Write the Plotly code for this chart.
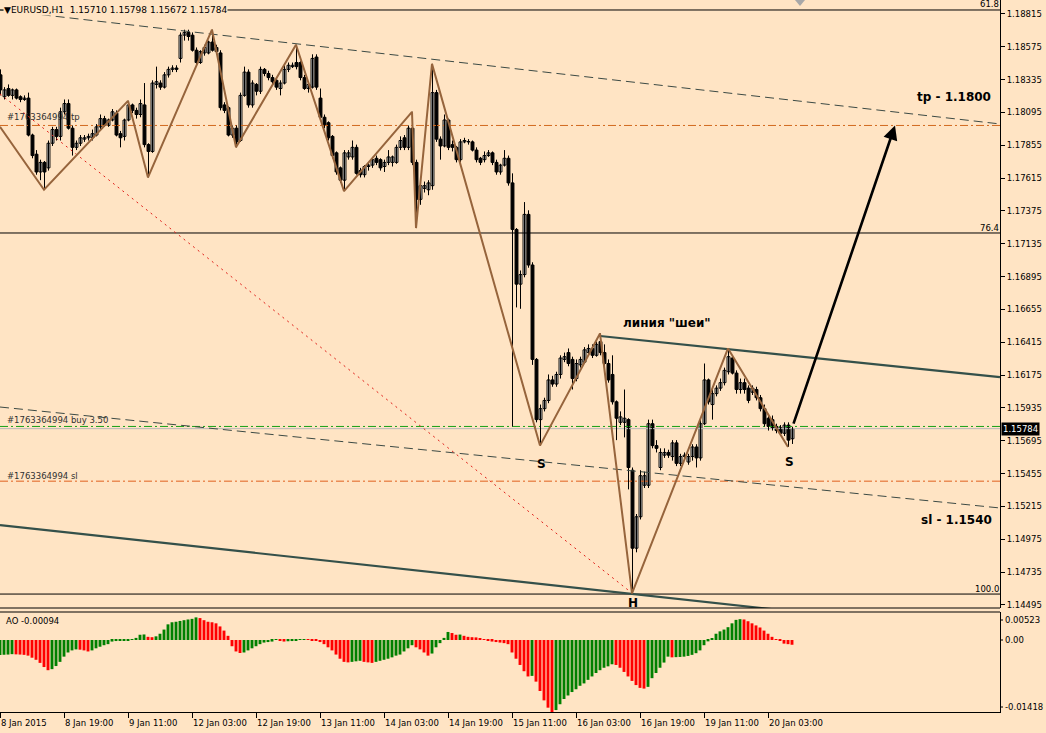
import plotly.graph_objects as go

W, H = 1046, 733
BG = "#FFE4C4"
FONT = "DejaVu Sans"

# ---------------- data (EURUSD H1) ----------------
opens = [1.1837,1.1821,1.1827,1.1822,1.1826,1.1821,1.1819,1.1820,1.1793,1.1779,
         1.1766,1.1773,1.1769,1.1787,1.1797,1.1792,1.1810,1.1816,1.1798,1.1784,
         1.1787,1.1790,1.1791,1.1791,1.1793,1.1799,1.1805,1.1800,1.1804,1.1809,
         1.1794,1.1792,1.1804,1.1815,1.1811,1.1808,1.1815,1.1786,1.1781,1.1830,
         1.1831,1.1828,1.1837,1.1841,1.1842,1.1849,1.1866,1.1868,1.1866,1.1855,
         1.1846,1.1853,1.1853,1.1861,1.1857,1.1853,1.1815,1.1813,1.1793,1.1798,
         1.1789,1.1822,1.1839,1.1815,1.1830,1.1825,1.1841,1.1838,1.1835,1.1833,
         1.1827,1.1831,1.1841,1.1843,1.1846,1.1846,1.1835,1.1827,1.1828,1.1850,
         1.1820,1.1806,1.1802,1.1792,1.1780,1.1769,1.1760,1.1777,1.1777,1.1784,
         1.1767,1.1764,1.1770,1.1771,1.1776,1.1775,1.1770,1.1773,1.1773,1.1773,
         1.1784,1.1791,1.1784,1.1798,1.1773,1.1746,1.1754,1.1753,1.1756,1.1824,
         1.1790,1.1785,1.1804,1.1786,1.1784,1.1775,1.1788,1.1788,1.1788,1.1782,
         1.1776,1.1775,1.1778,1.1780,1.1773,1.1766,1.1771,1.1776,1.1758,1.1724,
         1.1684,1.1691,1.1735,1.1698,1.1629,1.1585,1.1593,1.1599,1.1614,1.1611,
         1.1618,1.1629,1.1634,1.1629,1.1615,1.1625,1.1627,1.1634,1.1637,1.1632,
         1.1642,1.1634,1.1626,1.1618,1.1598,1.1583,1.1583,1.1585,1.1548,1.1491,
         1.1514,1.1537,1.1537,1.1582,1.1566,1.1550,1.1559,1.1561,1.1558,1.1568,
         1.1553,1.1558,1.1554,1.1558,1.1565,1.1557,1.1582,1.1614,1.1596,1.1604,
         1.1608,1.1612,1.1620,1.1630,1.1619,1.1607,1.1612,1.1608,1.1605,1.1607,
         1.1601,1.1593,1.1586,1.1585,1.1580,1.1579,1.1575,1.1581,1.15710]
highs = [1.1841,1.1828,1.1830,1.1827,1.1827,1.1822,1.1822,1.1824,1.1794,1.1782,
         1.1775,1.1774,1.1789,1.1799,1.1799,1.1813,1.1819,1.1819,1.1800,1.1789,
         1.1793,1.1793,1.1794,1.1797,1.1801,1.1808,1.1807,1.1805,1.1812,1.1811,
         1.1796,1.1805,1.1818,1.1816,1.1813,1.1819,1.1831,1.1787,1.1833,1.1843,
         1.1833,1.1839,1.1843,1.1844,1.1844,1.1868,1.1870,1.1870,1.1868,1.1857,
         1.1855,1.1859,1.1862,1.1870,1.1859,1.1855,1.1817,1.1814,1.1800,1.1800,
         1.1824,1.1843,1.1841,1.1833,1.1831,1.1843,1.1842,1.1840,1.1837,1.1835,
         1.1833,1.1844,1.1846,1.1846,1.1859,1.1847,1.1837,1.1832,1.1852,1.1852,
         1.1827,1.1808,1.1803,1.1793,1.1781,1.1770,1.1782,1.1782,1.1789,1.1786,
         1.1769,1.1771,1.1773,1.1777,1.1778,1.1776,1.1775,1.1782,1.1778,1.1786,
         1.1792,1.1793,1.1800,1.1810,1.1775,1.1760,1.1759,1.1760,1.1845,1.1826,
         1.1792,1.1808,1.1805,1.1789,1.1785,1.1790,1.1791,1.1790,1.1789,1.1784,
         1.1777,1.1781,1.1782,1.1781,1.1775,1.1772,1.1782,1.1778,1.1765,1.1725,
         1.1694,1.1744,1.1738,1.1700,1.1630,1.1596,1.1601,1.1618,1.1617,1.1620,
         1.1632,1.1634,1.1637,1.1631,1.1629,1.1631,1.1638,1.1640,1.1640,1.1642,
         1.1648,1.1640,1.1629,1.1632,1.1599,1.1591,1.1607,1.1586,1.1550,1.1516,
         1.1548,1.1547,1.1585,1.1585,1.1570,1.1564,1.1564,1.1563,1.1570,1.1570,
         1.1560,1.1561,1.1560,1.1567,1.1567,1.1585,1.1626,1.1615,1.1607,1.1610,
         1.1615,1.1623,1.1637,1.1632,1.1621,1.1615,1.1615,1.1610,1.1610,1.1609,
         1.1603,1.1596,1.1588,1.1588,1.1582,1.1581,1.1583,1.1583,1.15798]
lows = [1.1822,1.1819,1.1821,1.1819,1.1819,1.1817,1.1818,1.1792,1.1776,1.1764,
        1.1760,1.1753,1.1767,1.1785,1.1789,1.1789,1.1808,1.1797,1.1778,1.1782,
        1.1785,1.1788,1.1789,1.1789,1.1792,1.1797,1.1799,1.1799,1.1803,1.1792,
        1.1784,1.1789,1.1803,1.1809,1.1805,1.1806,1.1784,1.1762,1.1780,1.1827,
        1.1826,1.1827,1.1835,1.1839,1.1839,1.1846,1.1862,1.1862,1.1854,1.1844,
        1.1845,1.1851,1.1852,1.1854,1.1852,1.1811,1.1809,1.1792,1.1791,1.1784,
        1.1788,1.1821,1.1813,1.1813,1.1822,1.1823,1.1836,1.1833,1.1830,1.1826,
        1.1822,1.1830,1.1839,1.1842,1.1841,1.1833,1.1826,1.1824,1.1827,1.1826,
        1.1804,1.1798,1.1789,1.1776,1.1764,1.1758,1.1752,1.1775,1.1775,1.1764,
        1.1762,1.1762,1.1767,1.1769,1.1771,1.1767,1.1766,1.1771,1.1770,1.1772,
        1.1782,1.1782,1.1782,1.1771,1.1725,1.1742,1.1751,1.1749,1.1753,1.1788,
        1.1775,1.1784,1.1782,1.1781,1.1773,1.1773,1.1787,1.1786,1.1781,1.1773,
        1.1771,1.1773,1.1777,1.1771,1.1764,1.1764,1.1770,1.1756,1.1580,1.1667,
        1.1666,1.1689,1.1696,1.1625,1.1583,1.1566,1.1591,1.1597,1.1609,1.1609,
        1.1615,1.1627,1.1624,1.1607,1.1613,1.1623,1.1626,1.1632,1.1630,1.1631,
        1.1632,1.1624,1.1612,1.1596,1.1570,1.1581,1.1572,1.1534,1.1458,1.1488,
        1.1512,1.1535,1.1535,1.1564,1.1561,1.1548,1.1557,1.1557,1.1555,1.1551,
        1.1551,1.1555,1.1552,1.1555,1.1550,1.1555,1.1581,1.1596,1.1585,1.1602,
        1.1606,1.1610,1.1618,1.1618,1.1604,1.1604,1.1604,1.1597,1.1603,1.1599,
        1.1591,1.1580,1.1577,1.1577,1.1575,1.1573,1.1573,1.1565,1.15672]
closes = [1.1826,1.1826,1.1822,1.1826,1.1820,1.1819,1.1820,1.1793,1.1778,1.1766,
          1.1773,1.1766,1.1787,1.1797,1.1792,1.1810,1.1816,1.1798,1.1784,1.1787,
          1.1791,1.1791,1.1792,1.1794,1.1799,1.1805,1.1800,1.1804,1.1810,1.1793,
          1.1791,1.1804,1.1815,1.1811,1.1808,1.1816,1.1786,1.1781,1.1831,1.1832,
          1.1828,1.1837,1.1841,1.1842,1.1841,1.1866,1.1868,1.1865,1.1855,1.1846,
          1.1854,1.1857,1.1861,1.1855,1.1854,1.1813,1.1811,1.1793,1.1798,1.1788,
          1.1822,1.1839,1.1815,1.1831,1.1825,1.1841,1.1838,1.1835,1.1832,1.1828,
          1.1831,1.1841,1.1844,1.1844,1.1843,1.1835,1.1827,1.1830,1.1849,1.1828,
          1.1806,1.1800,1.1791,1.1778,1.1766,1.1760,1.1780,1.1780,1.1784,1.1765,
          1.1764,1.1770,1.1771,1.1775,1.1773,1.1769,1.1773,1.1777,1.1777,1.1784,
          1.1789,1.1784,1.1798,1.1773,1.1746,1.1756,1.1756,1.1758,1.1824,1.1790,
          1.1785,1.1804,1.1784,1.1784,1.1775,1.1788,1.1789,1.1788,1.1782,1.1775,
          1.1773,1.1778,1.1780,1.1773,1.1766,1.1771,1.1776,1.1758,1.1724,1.1684,
          1.1691,1.1735,1.1698,1.1629,1.1585,1.1593,1.1599,1.1614,1.1611,1.1618,
          1.1630,1.1631,1.1626,1.1615,1.1626,1.1629,1.1636,1.1637,1.1632,1.1640,
          1.1634,1.1626,1.1614,1.1598,1.1586,1.1587,1.1586,1.1550,1.1491,1.1514,
          1.1544,1.1544,1.1582,1.1566,1.1564,1.1561,1.1561,1.1559,1.1568,1.1553,
          1.1558,1.1559,1.1558,1.1565,1.1557,1.1582,1.1614,1.1598,1.1604,1.1608,
          1.1612,1.1621,1.1631,1.1619,1.1607,1.1612,1.1607,1.1599,1.1608,1.1601,
          1.1593,1.1582,1.1580,1.1579,1.1577,1.1575,1.1581,1.1570,1.15784]

ao = [-0.00297,-0.00291,-0.00287,-0.00279,-0.00283,-0.00287,-0.00293,-0.00308,-0.00349,-0.00390,
      -0.00451,-0.00533,-0.00595,-0.00574,-0.00513,-0.00431,-0.00328,-0.00246,-0.00205,-0.00185,
      -0.00191,-0.00205,-0.00226,-0.00205,-0.00164,-0.00133,-0.00103,-0.00082,-0.00031,-0.00021,
      -0.00012,-0.00008,-0.00004,0.00016,0.00041,0.00103,0.00109,0.00062,0.00055,0.00072,
      0.00123,0.00205,0.00308,0.00349,0.00359,0.00375,0.00390,0.00404,0.00416,0.00445,
      0.00431,0.00390,0.00359,0.00349,0.00328,0.00267,0.00185,0.00082,-0.00123,-0.00226,
      -0.00256,-0.00246,-0.00205,-0.00164,-0.00123,-0.00082,-0.00051,-0.00041,-0.00031,0.00006,
      -0.00010,-0.00031,-0.00025,-0.00021,-0.00006,0.00006,0.00010,0.00004,-0.00006,-0.00016,
      -0.00041,-0.00082,-0.00144,-0.00205,-0.00287,-0.00369,-0.00431,-0.00441,-0.00431,-0.00420,
      -0.00410,-0.00431,-0.00441,-0.00451,-0.00431,-0.00410,-0.00390,-0.00369,-0.00342,-0.00308,
      -0.00287,-0.00226,-0.00164,-0.00103,-0.00144,-0.00185,-0.00246,-0.00308,-0.00267,-0.00144,
      -0.00062,0.00041,0.00158,0.00137,0.00103,0.00107,0.00082,0.00062,0.00055,0.00051,
      0.00031,0.00010,-0.00014,-0.00031,-0.00041,-0.00051,-0.00062,-0.00082,-0.00246,-0.00369,
      -0.00492,-0.00615,-0.00718,-0.00707,-0.00820,-0.01005,-0.01189,-0.01333,-0.01418,-0.01380,
      -0.01265,-0.01162,-0.01093,-0.01025,-0.00970,-0.00902,-0.00855,-0.00785,-0.00718,-0.00650,
      -0.00595,-0.00547,-0.00519,-0.00478,-0.00492,-0.00547,-0.00629,-0.00718,-0.00806,-0.00888,
      -0.00943,-0.00957,-0.00923,-0.00752,-0.00650,-0.00547,-0.00445,-0.00328,-0.00342,-0.00338,
      -0.00334,-0.00328,-0.00314,-0.00293,-0.00260,-0.00205,-0.00103,-0.00027,0.00035,0.00123,
      0.00170,0.00205,0.00252,0.00328,0.00396,0.00410,0.00404,0.00369,0.00328,0.00287,
      0.00246,0.00185,0.00123,0.00062,0.00014,-0.00010,-0.00072,-0.00082,-0.00094]

time_tick_idx = [0, 16, 32, 48, 64, 80, 96, 112, 128, 144, 160, 176, 192]
time_tick_text = ["8 Jan 2015", "8 Jan 19:00", "9 Jan 11:00", "12 Jan 03:00", "12 Jan 19:00",
                  "13 Jan 11:00", "14 Jan 03:00", "14 Jan 19:00", "15 Jan 11:00", "16 Jan 03:00",
                  "16 Jan 19:00", "19 Jan 11:00", "20 Jan 03:00"]
price_ticks = [1.18815, 1.18575, 1.18335, 1.18095, 1.17855, 1.17615, 1.17375, 1.17135, 1.16895,
               1.16655, 1.16415, 1.16175, 1.15935, 1.15695, 1.15455, 1.15215, 1.14975, 1.14735, 1.14495]

zz_idx = [0, 11, 32, 37, 53, 59, 74, 86, 103, 104, 108, 135, 150, 158, 182, 197]
zz_price = [1.1799, 1.1753, 1.1818, 1.1762, 1.1870, 1.1784, 1.1859, 1.1752, 1.1810, 1.1725,
            1.1845, 1.1566, 1.1648, 1.1458, 1.1637, 1.1565]

fib_levels = [1.18844, 1.17214, 1.14575]
fib_labels = ["61.8", "76.4", "100.0"]

tp_level, buy_level, sl_level, bid_level = 1.1800, 1.1580, 1.1540, 1.15784
order_label_prices = [1.18054, 1.15840, 1.15430]
order_labels = ["#1763364994 tp", "#1763364994 buy 3.50", "#1763364994 sl"]

# trend lines: (idx0, price0, idx1, price1)
upper_channel = (0, 1.18844, 250, 1.18011)
lower_channel = (0, 1.15942, 250, 1.15204)
neck_line = (150, 1.16461, 250, 1.16161)
bottom_line = (0, 1.15079, 250, 1.14283)
red_dotted = (0, 1.18230, 158, 1.14582)
arrow_from = (198.25, 1.1581)
arrow_to = (223.75, 1.1800)

ao_label = "AO -0.00094"
header = "▼EURUSD,H1  1.15710 1.15798 1.15672 1.15784"

# ---------------- figure ----------------
XR = [0, 250]
XD = 1000 / W
N = len(opens)
idx = list(range(N))
XOFF = 0.125   # half a pixel, keeps 1-px strokes crisp

fig = go.Figure()

def line_tr(x, y, color, width=1, dash="solid"):
    fig.add_trace(go.Scatter(x=x, y=y, mode="lines", xaxis="x2", yaxis="y",
                             line=dict(color=color, width=width, dash=dash),
                             hoverinfo="skip", showlegend=False))

# order labels (behind candles)
fig.add_trace(go.Scatter(x=[1.75] * 3, y=order_label_prices, mode="text", text=order_labels,
                         textposition="middle right", xaxis="x2", yaxis="y",
                         textfont=dict(family=FONT, size=8.5, color="#303030"),
                         hoverinfo="skip", showlegend=False))

for lv in fib_levels:
    line_tr(XR, [lv, lv], "black", 1)

dashdot = "8px,3px,2px,3px"
line_tr(XR, [tp_level] * 2, "#D2691E", 1, dashdot)
line_tr(XR, [sl_level] * 2, "#E0601E", 1, dashdot)
line_tr(XR, [bid_level] * 2, "#B8B8B8", 1)
line_tr(XR, [buy_level] * 2, "#16A016", 1, dashdot)

# candles: wicks then bodies
wx, wy = [], []
for i in idx:
    wx += [i + XOFF, i + XOFF, None]
    wy += [lows[i], highs[i], None]
fig.add_trace(go.Scatter(x=wx, y=wy, mode="lines", xaxis="x2", yaxis="y",
                         line=dict(color="black", width=1), hoverinfo="skip", showlegend=False))
body_base = [min(o, c) for o, c in zip(opens, closes)]
body_h = [max(abs(c - o), 0.00002) for o, c in zip(opens, closes)]
body_fill = ["white" if c > o else "black" for o, c in zip(opens, closes)]
fig.add_trace(go.Bar(x=[i + XOFF for i in idx], y=body_h, base=body_base, width=0.72,
                     xaxis="x2", yaxis="y",
                     marker=dict(color=body_fill, line=dict(color="black", width=1)),
                     hoverinfo="skip", showlegend=False))

line_tr([upper_channel[0], upper_channel[2]], [upper_channel[1], upper_channel[3]], "#3C4A44", 1, "9px,5px")
line_tr([lower_channel[0], lower_channel[2]], [lower_channel[1], lower_channel[3]], "#3C4A44", 1, "9px,5px")
line_tr([neck_line[0], neck_line[2]], [neck_line[1], neck_line[3]], "#34504A", 2.2)
line_tr([bottom_line[0], bottom_line[2]], [bottom_line[1], bottom_line[3]], "#34504A", 2.2)
line_tr([red_dotted[0], red_dotted[2]], [red_dotted[1], red_dotted[3]], "#E0201A", 1, "2px,4px")

line_tr(zz_idx, zz_price, "#96643C", 2)

ao_colors = ["#008000" if (i == 0 or ao[i] > ao[i - 1]) else "#FF0000" for i in range(N)]
fig.add_trace(go.Bar(x=idx, y=ao, xaxis="x", yaxis="y2", width=0.72,
                     marker=dict(color=ao_colors, line=dict(width=0)),
                     hoverinfo="skip", showlegend=False))

fig.update_layout(
    width=W, height=H, margin=dict(l=0, r=0, t=0, b=0, autoexpand=False),
    paper_bgcolor=BG, plot_bgcolor=BG, showlegend=False, barmode="overlay",
    font=dict(family=FONT, size=8.5, color="black"),
    xaxis=dict(domain=[0, XD], range=XR, anchor="y2", showgrid=False, zeroline=False,
               showline=True, linecolor="black", linewidth=1, ticks="outside", ticklen=5,
               tickcolor="black", tickvals=time_tick_idx, showticklabels=False,
               fixedrange=True, automargin=False),
    xaxis2=dict(domain=[0, XD], range=XR, anchor="y", matches="x", visible=False,
                fixedrange=True, automargin=False),
    yaxis=dict(domain=[1 - 608 / H, 1], range=[1.14473, 1.18917], side="right", anchor="x2",
               showgrid=False, zeroline=False, showline=True, linecolor="black", linewidth=1,
               ticks="outside", ticklen=4, tickcolor="black", tickvals=price_ticks,
               ticktext=[f"{v:.5f}" for v in price_ticks],
               tickfont=dict(family=FONT, size=8.5, color="black"), fixedrange=True,
               automargin=False),
    yaxis2=dict(domain=[1 - 712 / H, 1 - 612 / H], range=[-0.01418, 0.00551], side="right",
                anchor="x", showgrid=False, zeroline=False, showline=True, linecolor="black",
                linewidth=1, showticklabels=False, ticks="", fixedrange=True, automargin=False),
)

def px(xp):
    return xp / W

def py(yp):
    return 1 - yp / H

shapes = [
    dict(type="line", xref="paper", yref="paper", x0=0, x1=XD, y0=py(608), y1=py(608),
         line=dict(color="black", width=1)),
    dict(type="line", xref="paper", yref="paper", x0=0, x1=XD, y0=py(612), y1=py(612),
         line=dict(color="black", width=1)),
    dict(type="path", xref="paper", yref="paper",
         path=f"M {px(795)} {py(0)} L {px(805)} {py(0)} L {px(800)} {py(6)} Z",
         fillcolor="#A8A8A8", line=dict(width=0)),
]
for yy in [620, 640, 707]:
    shapes.append(dict(type="line", xref="paper", yref="paper", x0=XD, x1=px(1003), y0=py(yy), y1=py(yy),
                       line=dict(color="black", width=1)))
fig.update_layout(shapes=shapes)

def ann(text, xp, yp, size=8.5, xanchor="left", color="black", bg=None, bold=False):
    fig.add_annotation(x=px(xp), y=py(yp), xref="paper", yref="paper",
                       text=f"<b>{text}</b>" if bold else text, showarrow=False,
                       xanchor=xanchor, yanchor="middle",
                       font=dict(family=FONT, size=size, color=color),
                       bgcolor=bg, borderpad=0)

# header and info texts
ann(header, 3, 10, size=9, bg=BG)
ann(ao_label, 5, 621)
for lab, yy in zip(fib_labels, [4, 228, 589]):
    ann(lab, 1000, yy, xanchor="right")
for lab, yy in zip(["0.00523", "0.00", "-0.01418"], [620, 640, 707]):
    ann(lab, 1004, yy)

ann("tp - 1.1800", 954, 97, size=12, xanchor="center", bold=True)
ann("sl - 1.1540", 956, 520, size=12, xanchor="center", bold=True)
ann("линия \"шеи\"", 667, 323, size=12, xanchor="center", bold=True)
ann("S", 541, 464, size=12, xanchor="center", bold=True)
ann("S", 789, 462, size=12, xanchor="center", bold=True)
ann("H", 633, 603, size=12, xanchor="center", bold=True)

# current price box
fig.add_annotation(x=px(1001), y=bid_level, xref="paper", yref="y", text=f"{bid_level:.5f}",
                   showarrow=False, xanchor="left", yanchor="middle",
                   font=dict(family=FONT, size=8.5, color="white"), bgcolor="black", borderpad=1)

# time labels
for ti, tt in zip(time_tick_idx, time_tick_text):
    fig.add_annotation(x=ti, y=py(723), xref="x", yref="paper", text=tt, showarrow=False,
                       xanchor="left", yanchor="middle", xshift=-1,
                       font=dict(family=FONT, size=8.5, color="black"))

# arrow
fig.add_annotation(x=arrow_to[0], y=arrow_to[1], ax=arrow_from[0], ay=arrow_from[1],
                   xref="x2", yref="y", axref="x2", ayref="y", text="", showarrow=True,
                   arrowhead=2, arrowsize=1.1, arrowwidth=2.6, arrowcolor="black")

fig.write_html("out.html", config={"displayModeBar": False},
               post_script="document.body.style.margin='0';document.body.style.background='#FFE4C4';")
